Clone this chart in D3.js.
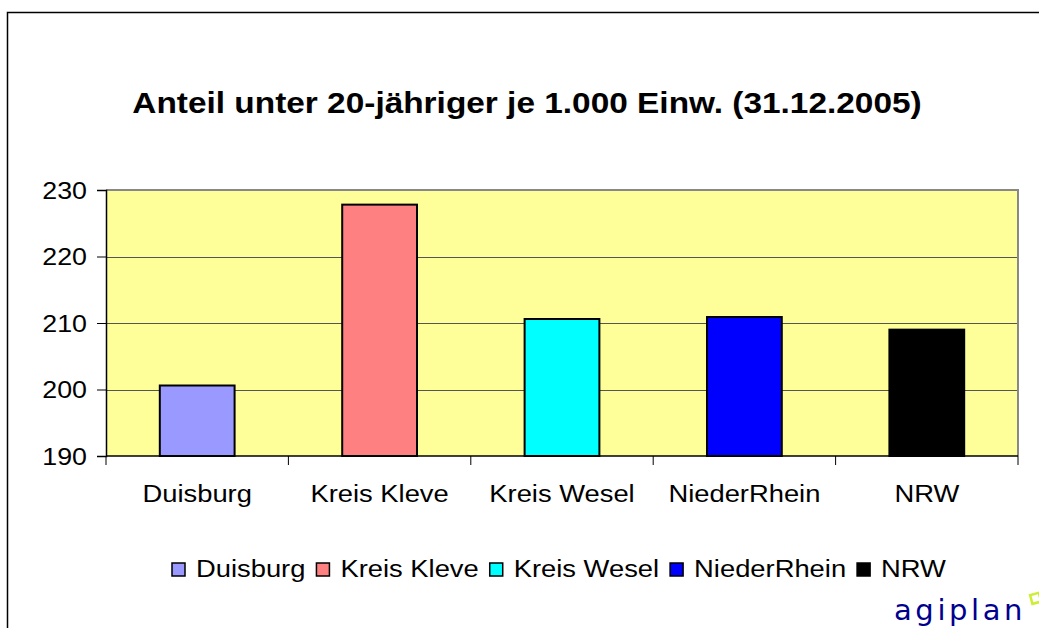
<!DOCTYPE html>
<html>
<head>
<meta charset="utf-8">
<script src="https://cdn.jsdelivr.net/npm/d3@7"></script>
<style>
  body { margin: 0; background: #fff; }
  svg { display: block; font-family: 'Liberation Sans', Arial, sans-serif; }
</style>
</head>
<body>
<svg id="chart" width="1039" height="628"></svg>
<script>
const categories = ['Duisburg', 'Kreis Kleve', 'Kreis Wesel', 'NiederRhein', 'NRW'];
const values = [200.6, 227.8, 210.6, 210.9, 209.0];
const colors = ['#9999FF', '#FF8080', '#00FFFF', '#0000FF', '#000000'];
const yTicks = [190, 200, 210, 220, 230];
const title = 'Anteil unter 20-jähriger je 1.000 Einw. (31.12.2005)';

const svg = d3.select('#chart');
const stretch = 1.14; // text in the source is a bit wider than normal

// outer frame (top + left edges visible)
svg.append('path')
  .attr('d', 'M7.5,628 L7.5,12.5 L1039,12.5')
  .attr('fill', 'none')
  .attr('stroke', '#000')
  .attr('stroke-width', 1.5);

// helper for horizontally stretched text
const stretchedText = (g, x, y, str, anchor) => g.append('text')
  .attr('transform', `translate(${x},${y}) scale(${stretch},1)`)
  .attr('text-anchor', anchor)
  .text(str);

// Title
stretchedText(svg, 527, 113, title, 'middle')
  .style('font-size', '29.3px')
  .style('font-weight', 'bold');

const plot = { left: 106, right: 1018, top: 190, bottom: 456 };

const x = d3.scaleBand()
  .domain(categories)
  .range([plot.left, plot.right])
  .paddingInner(0.59)
  .paddingOuter(0.295);

const xOuter = d3.scaleBand()
  .domain(categories)
  .range([plot.left, plot.right]);

const y = d3.scaleLinear()
  .domain([190, 230])
  .range([plot.bottom, plot.top]);

// plot background
svg.append('rect')
  .attr('x', plot.left)
  .attr('y', plot.top)
  .attr('width', plot.right - plot.left)
  .attr('height', plot.bottom - plot.top)
  .attr('fill', '#FFFF99');

// gridlines
svg.append('g')
  .selectAll('line')
  .data(yTicks.slice(1, -1))
  .enter()
  .append('line')
  .attr('x1', plot.left)
  .attr('x2', plot.right)
  .attr('y1', d => Math.round(y(d)) + 0.5)
  .attr('y2', d => Math.round(y(d)) + 0.5)
  .attr('stroke', '#555')
  .attr('stroke-width', 1);

// plot border top/right (gray)
svg.append('path')
  .attr('d', `M${plot.left},${plot.top} L${plot.right},${plot.top} L${plot.right},${plot.bottom}`)
  .attr('fill', 'none')
  .attr('stroke', '#888')
  .attr('stroke-width', 2);

// bars
svg.append('g')
  .selectAll('rect')
  .data(categories)
  .enter()
  .append('rect')
  .attr('x', d => x(d))
  .attr('y', (d, i) => y(values[i]))
  .attr('width', x.bandwidth())
  .attr('height', (d, i) => y(190) - y(values[i]))
  .attr('fill', (d, i) => colors[i])
  .attr('stroke', '#000')
  .attr('stroke-width', 2);

// y axis
const yAxis = svg.append('g')
  .attr('transform', `translate(${plot.left},0)`)
  .call(d3.axisLeft(y).tickValues(yTicks).tickSize(9).tickFormat(d3.format('d')));
yAxis.select('.domain').attr('stroke', '#000').attr('stroke-width', 1.5);
yAxis.selectAll('.tick line').attr('stroke', '#000');
yAxis.selectAll('.tick text').remove();
yAxis.selectAll('.tick').each(function(d) {
  stretchedText(d3.select(this), -19, 8, d, 'end')
    .style('font-size', '23.5px')
    .attr('fill', '#000');
});

// x axis with ticks at category boundaries
const xAxis = svg.append('g')
  .attr('transform', `translate(0,${plot.bottom})`);
xAxis.append('line')
  .attr('x1', plot.left)
  .attr('x2', plot.right)
  .attr('stroke', '#000')
  .attr('stroke-width', 1.5);
const bounds = categories.map(c => xOuter(c)).concat([plot.right]);
xAxis.selectAll('line.tick')
  .data(bounds)
  .enter()
  .append('line')
  .attr('class', 'tick')
  .attr('x1', d => d)
  .attr('x2', d => d)
  .attr('y1', 0)
  .attr('y2', 9)
  .attr('stroke', '#000');
categories.forEach(c => {
  stretchedText(xAxis, x(c) + x.bandwidth() / 2, 46, c, 'middle')
    .style('font-size', '24px');
});

// legend
const legend = svg.append('g');
let lx = 172;
categories.forEach((c, i) => {
  legend.append('rect')
    .attr('x', lx)
    .attr('y', 563)
    .attr('width', 13)
    .attr('height', 13)
    .attr('fill', colors[i])
    .attr('stroke', '#000')
    .attr('stroke-width', 1.5);
  const t = stretchedText(legend, lx + 24, 577, c, 'start')
    .style('font-size', '24px');
  lx += 24 + t.node().getComputedTextLength() * stretch + 11;
});

// agiplan logo
svg.append('text')
  .attr('x', 894)
  .attr('y', 620)
  .style('font-family', "'DejaVu Sans', sans-serif")
  .style('font-size', '29px')
  .style('letter-spacing', '3.6px')
  .attr('fill', '#00008f')
  .text('agiplan');
svg.append('rect')
  .attr('x', 1031)
  .attr('y', 594)
  .attr('width', 9)
  .attr('height', 9)
  .attr('transform', 'rotate(-15,1035,598)')
  .attr('fill', 'none')
  .attr('stroke', '#ccee33')
  .attr('stroke-width', 2.5);
</script>
</body>
</html>
